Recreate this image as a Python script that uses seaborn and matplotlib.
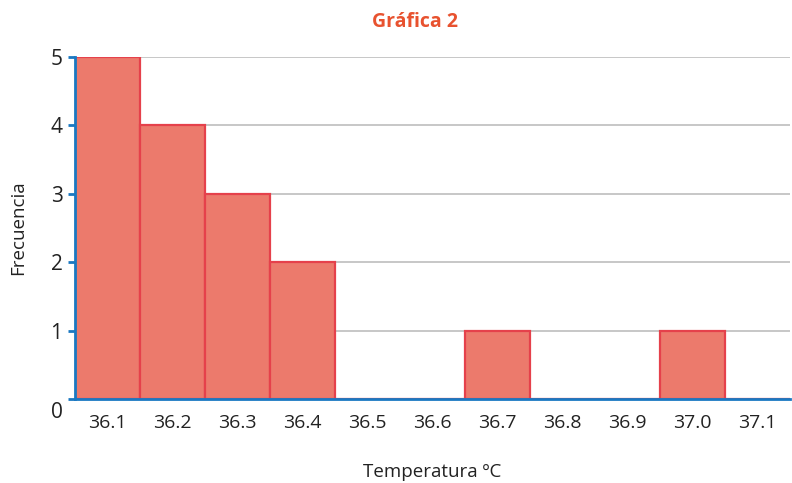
import matplotlib
matplotlib.use("Agg")
import matplotlib.pyplot as plt
import matplotlib.transforms as mtransforms
import seaborn as sns
import pandas as pd

temperaturas = ["36.1", "36.2", "36.3", "36.4", "36.5", "36.6",
                "36.7", "36.8", "36.9", "37.0", "37.1"]
frecuencias = [5, 4, 3, 2, 0, 0, 1, 0, 0, 1, 0]
y_ticks = [0, 1, 2, 3, 4, 5]

df = pd.DataFrame({"Temperatura": temperaturas, "Frecuencia": frecuencias})

sns.set_theme(style="white")
plt.rcParams["font.family"] = ["Open Sans", "DejaVu Sans"]

fig = plt.figure(figsize=(7.92, 4.83), dpi=100)
ax = fig.add_axes([75 / 792, 1 - 399 / 483, (790 - 75) / 792, (399 - 57) / 483])

blue = "#1a78c2"
ax.set_axisbelow(True)
for y in y_ticks[1:]:
    ax.axhline(y, color="#bdbdbd", lw=1.2, zorder=0)

sns.barplot(data=df, x="Temperatura", y="Frecuencia", ax=ax,
            color="#ec7a6c", edgecolor="#e5414b", linewidth=1.6,
            width=1.0, saturation=1, zorder=2)

ax.set_xlim(-0.5, 10.5)
ax.set_ylim(0, 5)
ax.set_yticks(y_ticks)
ax.set_yticklabels([str(v) for v in y_ticks])

for side in ["top", "right"]:
    ax.spines[side].set_visible(False)
for side in ["left", "bottom"]:
    ax.spines[side].set_color(blue)
    ax.spines[side].set_linewidth(2.0)
    ax.spines[side].set_zorder(3)

ax.tick_params(axis="y", length=5, width=2, color=blue, labelsize=15,
               labelcolor="#222222", pad=4, left=True)
ax.tick_params(axis="x", length=0, labelsize=14, labelcolor="#222222", pad=11)

# the zero label sits slightly below the baseline
zero_lbl = ax.get_yticklabels()[0]
zero_lbl.set_transform(zero_lbl.get_transform() +
                       mtransforms.ScaledTranslation(0, -8 / 72, fig.dpi_scale_trans))

ax.set_xlabel("Temperatura ºC", fontsize=13.5, color="#222222", labelpad=22)
ax.set_ylabel("Frecuencia", fontsize=13.5, color="#222222", labelpad=17)

fig.text(415 / 792, 1 - 22 / 483, "Gráfica 2", ha="center", va="center",
         fontsize=14, fontweight="bold", color="#e8522f")

fig.savefig("out.png", dpi=100)
